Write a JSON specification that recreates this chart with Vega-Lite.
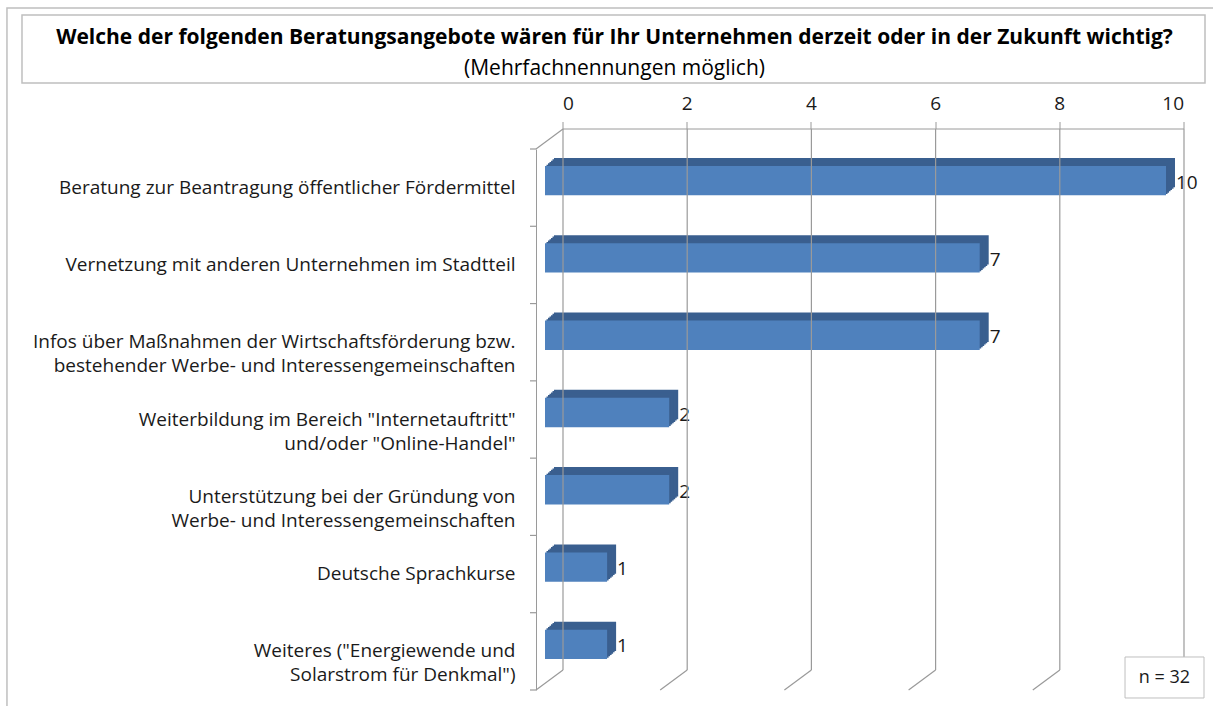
{
  "$schema": "https://vega.github.io/schema/vega-lite/v6.json",
  "autosize": "none",
  "padding": {"left": 536, "top": 149, "right": 56, "bottom": 16},
  "width": 621,
  "height": 541,
  "background": "white",
  "config": {"view": {"stroke": null}},
  "title": {
    "text": "Welche der folgenden Beratungsangebote wären für Ihr Unternehmen derzeit oder in der Zukunft wichtig?",
    "subtitle": "(Mehrfachnennungen möglich)",
    "anchor": "middle",
    "frame": "group",
    "dx": -232,
    "offset": -72,
    "font": "Open Sans",
    "fontSize": 21,
    "fontWeight": "bold",
    "color": "#000000",
    "subtitleFont": "Open Sans",
    "subtitleFontSize": 21,
    "subtitleColor": "#000000",
    "subtitlePadding": 10
  },
  "data": {"values": [
    {"cat": "Beratung zur Beantragung öffentlicher Fördermittel", "n": 10},
    {"cat": "Vernetzung mit anderen Unternehmen im Stadtteil", "n": 7},
    {"cat": "Infos über Maßnahmen der Wirtschaftsförderung bzw.\nbestehender Werbe- und Interessengemeinschaften", "n": 7},
    {"cat": "Weiterbildung im Bereich \"Internetauftritt\"\nund/oder \"Online-Handel\"", "n": 2},
    {"cat": "Unterstützung bei der Gründung von\nWerbe- und Interessengemeinschaften", "n": 2},
    {"cat": "Deutsche Sprachkurse", "n": 1},
    {"cat": "Weiteres (\"Energiewende und\nSolarstrom für Denkmal\")", "n": 1}
  ]},
  "resolve": {"scale": {"y": "independent"}, "axis": {"y": "independent"}},
  "layer": [
    {
      "encoding": {
        "y": {
          "field": "cat", "type": "nominal", "sort": null,
          "scale": {"paddingInner": 0.62, "paddingOuter": 0.31},
          "axis": {
            "title": null, "orient": "left", "ticks": false, "domain": true,
            "domainColor": "#9A9A9A", "labelPadding": 21, "labelFont": "Open Sans",
            "labelFontSize": 19, "labelColor": "#1A1A1A", "labelLimit": 700,
            "labelLineHeight": 24, "labelAlign": "right",
            "labelExpr": "split(datum.value, '\\n')"
          }
        },
        "x": {
          "field": "n", "type": "quantitative",
          "scale": {"domain": [0, 10], "nice": false},
          "axis": {
            "title": null, "orient": "top", "values": [0, 2, 4, 6, 8, 10], "format": "d",
            "grid": false, "domainColor": "#9A9A9A", "tickColor": "#9A9A9A",
            "tickSize": 7, "offset": 47, "translate": 27, "labelPadding": 8,
            "labelFont": "Open Sans", "labelFontSize": 19, "labelColor": "#1A1A1A"
          }
        }
      },
      "layer": [
        {"mark": {"type": "bar", "color": "#3A5F8F", "xOffset": 18, "x2Offset": 18, "yOffset": -15, "y2Offset": -15}},
        {"mark": {"type": "bar", "color": "#3A5F8F", "xOffset": 16.5, "x2Offset": 16.5, "yOffset": -13.7, "y2Offset": -13.7}},
        {"mark": {"type": "bar", "color": "#3A5F8F", "xOffset": 15, "x2Offset": 15, "yOffset": -12.3, "y2Offset": -12.3}},
        {"mark": {"type": "bar", "color": "#3A5F8F", "xOffset": 13.5, "x2Offset": 13.5, "yOffset": -11, "y2Offset": -11}},
        {"mark": {"type": "bar", "color": "#3A5F8F", "xOffset": 12, "x2Offset": 12, "yOffset": -9.7, "y2Offset": -9.7}},
        {"mark": {"type": "bar", "color": "#3A5F8F", "xOffset": 10.5, "x2Offset": 10.5, "yOffset": -8.3, "y2Offset": -8.3}},
        {"mark": {"type": "bar", "color": "#4F81BD", "xOffset": 9, "x2Offset": 9, "yOffset": -7, "y2Offset": -7}},
        {
          "mark": {"type": "text", "align": "left", "baseline": "middle", "dx": 19, "dy": -5, "font": "Open Sans", "fontSize": 19, "color": "#1A1A1A"},
          "encoding": {"text": {"field": "n", "type": "quantitative"}}
        }
      ]
    },
    {
      "layer": [
        {
          "data": {"values": [{"t": 0}, {"t": 2}, {"t": 4}, {"t": 6}, {"t": 8}, {"t": 10}]},
          "mark": {"type": "rule", "color": "#9A9A9A", "strokeWidth": 1.2, "xOffset": 27, "yOffset": -20, "y2Offset": -20},
          "encoding": {
            "x": {"field": "t", "type": "quantitative", "scale": {"domain": [0, 10], "nice": false}},
            "y": {"datum": 0, "type": "quantitative", "scale": {"domain": [0, 7], "nice": false}, "axis": null},
            "y2": {"datum": 7}
          }
        },
        {
          "data": {"values": [{"t": 0}, {"t": 2}, {"t": 4}, {"t": 6}, {"t": 8}, {"t": 10}]},
          "mark": {"type": "rule", "color": "#9A9A9A", "strokeWidth": 1.2, "xOffset": 27, "yOffset": -20, "x2Offset": 0, "y2Offset": 0},
          "encoding": {
            "x": {"field": "t", "type": "quantitative", "scale": {"domain": [0, 10], "nice": false}},
            "x2": {"field": "t"},
            "y": {"datum": 0, "type": "quantitative", "scale": {"domain": [0, 7], "nice": false}, "axis": null},
            "y2": {"datum": 0}
          }
        },
        {
          "data": {"values": [{"t": 0}]},
          "mark": {"type": "rule", "color": "#9A9A9A", "strokeWidth": 1.2, "xOffset": 27, "yOffset": -20},
          "encoding": {
            "x": {"field": "t", "type": "quantitative", "scale": {"domain": [0, 10], "nice": false}},
            "x2": {"field": "t"},
            "y": {"datum": 7, "type": "quantitative", "scale": {"domain": [0, 7], "nice": false}, "axis": null},
            "y2": {"datum": 7}
          }
        },
        {
          "data": {"values": [{"b": 0}, {"b": 1}, {"b": 2}, {"b": 3}, {"b": 4}, {"b": 5}, {"b": 6}, {"b": 7}]},
          "mark": {"type": "rule", "color": "#9A9A9A", "strokeWidth": 1.2, "xOffset": -6},
          "encoding": {
            "x": {"datum": 0, "type": "quantitative", "scale": {"domain": [0, 10], "nice": false}},
            "x2": {"datum": 0},
            "y": {"field": "b", "type": "quantitative", "scale": {"domain": [0, 7], "nice": false}, "axis": null}
          }
        },
        {
          "data": {"values": [{"label": "n = 32"}]},
          "mark": {"type": "rect", "fill": "white", "stroke": "#BFBFBF", "strokeWidth": 1},
          "encoding": {
            "x": {"datum": 9.485, "type": "quantitative", "scale": {"domain": [0, 10], "nice": false}},
            "x2": {"datum": 10.757},
            "y": {"datum": 0.427, "type": "quantitative", "scale": {"domain": [0, 7], "nice": false}, "axis": null},
            "y2": {"datum": -0.1035}
          }
        },
        {
          "data": {"values": [{"label": "n = 32"}]},
          "mark": {"type": "text", "align": "center", "baseline": "middle", "font": "Open Sans", "fontSize": 18, "color": "#1A1A1A"},
          "encoding": {
            "x": {"datum": 10.12, "type": "quantitative", "scale": {"domain": [0, 10], "nice": false}},
            "y": {"datum": 0.155, "type": "quantitative", "scale": {"domain": [0, 7], "nice": false}, "axis": null},
            "text": {"field": "label"}
          }
        },
        {
          "data": {"values": [{"box": "title"}]},
          "mark": {"type": "rect", "fill": null, "fillOpacity": 0, "stroke": "#BFBFBF", "strokeWidth": 1.5},
          "encoding": {
            "x": {"datum": -8.277, "type": "quantitative", "scale": {"domain": [0, 10], "nice": false}},
            "x2": {"datum": 10.773},
            "y": {"datum": 8.734, "type": "quantitative", "scale": {"domain": [0, 7], "nice": false}, "axis": null},
            "y2": {"datum": 7.854}
          }
        },
        {
          "data": {"values": [{"box": "frame"}]},
          "mark": {"type": "rect", "fill": null, "fillOpacity": 0, "stroke": "#BFBFBF", "strokeWidth": 1.5},
          "encoding": {
            "x": {"datum": -8.519, "type": "quantitative", "scale": {"domain": [0, 10], "nice": false}},
            "x2": {"datum": 14},
            "y": {"datum": 8.825, "type": "quantitative", "scale": {"domain": [0, 7], "nice": false}, "axis": null},
            "y2": {"datum": -1}
          }
        }
      ]
    }
  ]
}
